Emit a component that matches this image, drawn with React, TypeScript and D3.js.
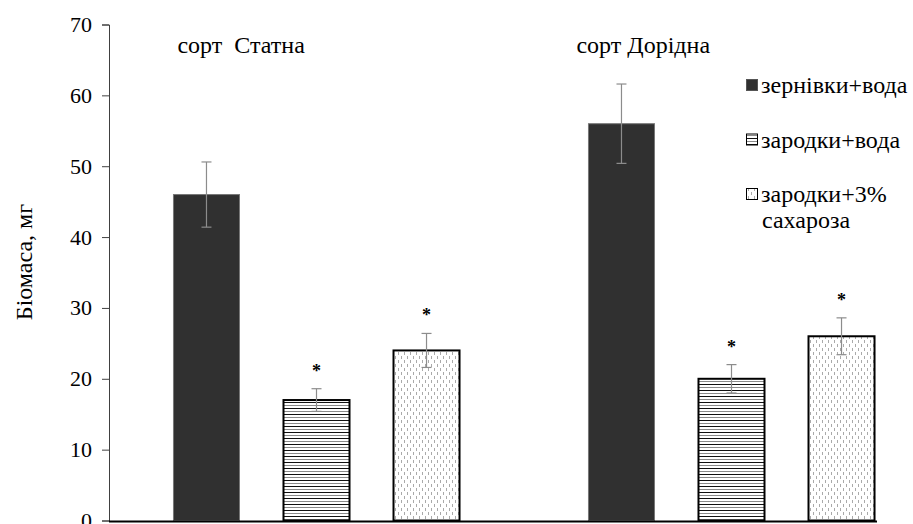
import { useRef, useEffect } from 'react'
import * as d3 from 'd3'

// data
const cultivars = ['сорт  Статна', 'сорт Дорідна']
const seriesNames = ['зернівки+вода', 'зародки+вода', 'зародки+3% сахароза']
const biomass = [
    [46, 17, 24],
    [56, 20, 26],
]
const errors = [
    [4.6, 1.6, 2.4],
    [5.6, 2.0, 2.6],
]
const significant = [
    [false, true, true],
    [false, true, true],
]
const yTicks = [0, 10, 20, 30, 40, 50, 60, 70]

const W = 913
const H = 524
const FONT = 'Liberation Serif, Times New Roman, DejaVu Serif, serif'

const App = () => {
    const svgRef = useRef(null)

    useEffect(() => {
        const svg = d3.select(svgRef.current)
        svg.selectAll('*').remove()

        const left = 109
        const right = 877
        const top = 24.5
        const bottom = 520.5

        // patterns for the fills
        const defs = svg.append('defs')
        const stripes = defs.append('pattern')
            .attr('id', 'stripes')
            .attr('patternUnits', 'userSpaceOnUse')
            .attr('width', 8).attr('height', 6)
        stripes.append('rect').attr('width', 8).attr('height', 6).attr('fill', '#fff')
        stripes.append('line').attr('x1', 0).attr('x2', 8).attr('y1', 0.5).attr('y2', 0.5)
            .attr('stroke', '#111').attr('stroke-width', 1)
        stripes.append('line').attr('x1', 0).attr('x2', 8).attr('y1', 3.5).attr('y2', 3.5)
            .attr('stroke', '#8a8a8a').attr('stroke-width', 1)

        const dots = defs.append('pattern')
            .attr('id', 'dots')
            .attr('patternUnits', 'userSpaceOnUse')
            .attr('width', 6).attr('height', 8)
        dots.append('rect').attr('width', 6).attr('height', 8).attr('fill', '#fff')
        dots.append('line').attr('x1', 1.5).attr('x2', 1.5).attr('y1', 0).attr('y2', 3)
            .attr('stroke', '#aaa').attr('stroke-width', 1)
        dots.append('line').attr('x1', 4.5).attr('x2', 4.5).attr('y1', 4).attr('y2', 7)
            .attr('stroke', '#aaa').attr('stroke-width', 1)

        const fills = ['#303030', 'url(#stripes)', 'url(#dots)']
        const strokes = ['#777', '#000', '#000']
        const strokeW = [1, 2, 2]

        // scales
        const yScale = d3.scaleLinear().domain([0, 70]).range([bottom, top])
        const xCat = d3.scaleBand()
            .domain(d3.range(cultivars.length))
            .range([left, left + 830])
            .padding(0)
        const xSer = d3.scaleBand()
            .domain(d3.range(seriesNames.length))
            .range([0, xCat.bandwidth()])
            .paddingInner(0.4)
            .paddingOuter(0.586)

        // y axis
        const yAxis = d3.axisLeft(yScale).tickValues(yTicks).tickSize(7).tickPadding(10)
        const gy = svg.append('g')
            .attr('transform', `translate(${left}, 0)`)
            .call(yAxis)
        gy.attr('font-family', FONT).attr('font-size', 22)
        gy.select('.domain').attr('stroke', '#404040')
        gy.selectAll('.tick line').attr('stroke', '#404040')
        gy.selectAll('.tick text').attr('fill', '#000')

        svg.append('text')
            .attr('transform', `translate(32, 262) rotate(-90)`)
            .attr('text-anchor', 'middle')
            .attr('font-family', FONT)
            .attr('font-size', 24)
            .text('Біомаса, мг')

        // bars
        biomass.forEach((vals, c) => {
            const g = svg.append('g').attr('transform', `translate(${xCat(c)}, 0)`)
            g.selectAll('rect')
                .data(vals)
                .join('rect')
                    .attr('x', (d, i) => xSer(i))
                    .attr('y', d => yScale(d))
                    .attr('width', xSer.bandwidth())
                    .attr('height', d => yScale(0) - yScale(d))
                    .attr('fill', (d, i) => fills[i])
                    .attr('stroke', (d, i) => strokes[i])
                    .attr('stroke-width', (d, i) => strokeW[i])

            // error bars
            vals.forEach((v, i) => {
                const cx = xSer(i) + xSer.bandwidth() / 2
                const e = errors[c][i]
                const eb = g.append('g').attr('stroke', '#8c8c8c').attr('stroke-width', 1.2)
                eb.append('line').attr('x1', cx).attr('x2', cx)
                    .attr('y1', yScale(v + e)).attr('y2', yScale(v - e))
                eb.append('line').attr('x1', cx - 5).attr('x2', cx + 5)
                    .attr('y1', yScale(v + e)).attr('y2', yScale(v + e))
                eb.append('line').attr('x1', cx - 5).attr('x2', cx + 5)
                    .attr('y1', yScale(v - e)).attr('y2', yScale(v - e))
                if (significant[c][i]) {
                    g.append('text')
                        .attr('x', cx)
                        .attr('y', yScale(v + e) - 12)
                        .attr('text-anchor', 'middle')
                        .attr('font-family', FONT)
                        .attr('font-size', 18)
                        .attr('font-weight', 'bold')
                        .text('*')
                }
            })

            // cultivar label
            const labelShift = [4, -12]
            svg.append('text')
                .attr('x', xCat(c) + xSer(0) + labelShift[c])
                .attr('y', 53)
                .attr('font-family', FONT)
                .attr('font-size', 24)
                .style('white-space', 'pre')
                .text(cultivars[c])
        })

        // x axis line
        svg.append('line')
            .attr('x1', left).attr('x2', right)
            .attr('y1', bottom + 1).attr('y2', bottom + 1)
            .attr('stroke', '#000').attr('stroke-width', 2)

        // legend
        const legendRows = [['зернівки+вода'], ['зародки+вода'], ['зародки+3%', 'сахароза']]
        const legendY = d3.scalePoint().domain(d3.range(legendRows.length)).range([93, 202])
        legendRows.forEach((lines, i) => {
            const y = legendY(i)
            svg.append('rect')
                .attr('x', 746.5).attr('y', y - 13.5)
                .attr('width', 11).attr('height', 11)
                .attr('fill', fills[i])
                .attr('stroke', i === 0 ? '#555' : '#000')
                .attr('stroke-width', 1)
            lines.forEach((t, k) => {
                svg.append('text')
                    .attr('x', 761 + (k > 0 ? 1 : 0))
                    .attr('y', y + k * 26)
                    .attr('font-family', FONT)
                    .attr('font-size', 24)
                    .text(t)
            })
        })
    }, [])

    return (
        <svg ref={svgRef} width={W} height={H}
            style={{ position: 'absolute', left: 0, top: 0, background: '#fff' }} />
    )
}

export default App
